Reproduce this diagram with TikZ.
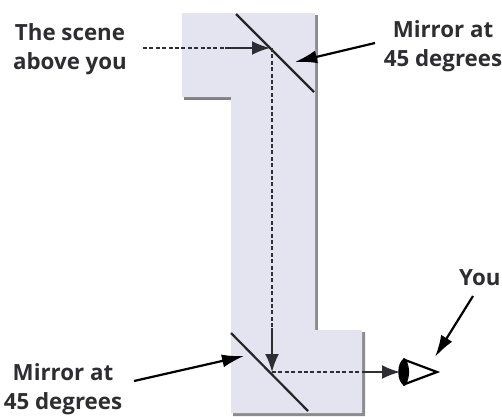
\documentclass[tikz,border=0pt]{standalone}
\usepackage{fontspec}
\setmainfont{Open Sans}
\usetikzlibrary{arrows.meta}
\definecolor{body}{RGB}{228,228,241}
\definecolor{ink}{RGB}{45,45,50}
\tikzset{
  lab/.style={font=\bfseries\fontsize{22.3}{29}\selectfont,text=ink,align=center,inner sep=0pt},
  mirror/.style={draw=black!85,line width=2.2pt},
  beam/.style={draw=ink,line width=2pt,dash pattern=on 4pt off 2.4pt},
  beamhead/.style={draw=ink,line width=2pt,-{Latex[length=18pt,width=14pt]}},
  pointer/.style={draw=black,line width=2.2pt,-{Latex[length=22pt,width=13pt]}},
}
\begin{document}
\begin{tikzpicture}[x=1pt,y=-1pt]
\useasboundingbox (0,0) rectangle (502,416);
% shadow
\fill[black!50] (184,97) -- (231,97) -- (231,100) -- (184,100) -- cycle;
\fill[black!45] (315,15) -- (318,15) -- (318,330) -- (315,330) -- cycle;
\fill[black!45] (362,332) -- (365,332) -- (365,416) -- (233,416) -- (233,413) -- (362,413) -- cycle;
% body
\fill[body] (182,13) -- (315,13) -- (315,330) -- (362,330) -- (362,413) -- (231,413) -- (231,97) -- (182,97) -- cycle;
% named points
\coordinate (m1a) at (236,14);
\coordinate (m1b) at (314,92);
\coordinate (m2a) at (231,333);
\coordinate (m2b) at (308,411);
\coordinate (hit1) at (270,48);
\coordinate (hit1b) at (272,48);
\coordinate (hit2) at (272,372);
\coordinate (s0) at (143,48);
\coordinate (s1) at (225,48);
\coordinate (d0) at (272,328);
\coordinate (o0) at (362,372);
\coordinate (o1) at (400,372);
% mirrors
\draw[mirror] (m1a) -- (m1b);
\draw[mirror] (m2a) -- (m2b);
% beams
\draw[beam] (s0) -- (s1);
\draw[beamhead] (s1) -- (hit1);
\draw[beam] (hit1b) -- (d0);
\draw[beamhead] (d0) -- (hit2);
\draw[beam] (hit2) -- (o0);
\draw[beamhead] (o0) -- (o1);
% eye
\coordinate (e1) at (405,360);
\coordinate (e2) at (437,372);
\coordinate (e3) at (405,384);
\fill[black] (405,358) .. controls (396,361) and (396,383) .. (405,386) -- (409,372) -- cycle;
\draw[black,line width=2.2pt,fill=white,line join=miter] (e1) -- (e2) -- (e3) .. controls (409,376) and (409,368) .. (e1) -- cycle;
% labels
\node[lab] (scene) at (70,49.5) {The scene\\above you};
\node[lab] (mtop) at (443,46.5) {Mirror at\\45 degrees};
\node[lab] (mbot) at (63,389) {Mirror at\\45 degrees};
\node[lab,anchor=west] (you) at (459,278) {You};
\coordinate (mtoptip) at (295,62);
\coordinate (mtops) at (375,43);
\coordinate (mbottip) at (244,356);
\coordinate (mbots) at (134,381);
\coordinate (youtip) at (435,357);
\coordinate (yous) at (473,296);
\draw[pointer] (mtops) -- (mtoptip);
\draw[pointer] (mbots) -- (mbottip);
\draw[pointer] (yous) -- (youtip);
\end{tikzpicture}
\end{document}
